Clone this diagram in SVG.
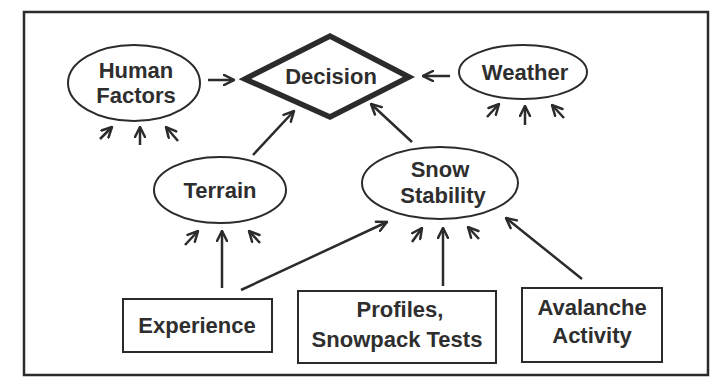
<svg xmlns="http://www.w3.org/2000/svg" width="712" height="377" viewBox="0 0 712 377">
<defs>
<marker id="ah" viewBox="0 0 10 10" refX="9" refY="5" markerWidth="5" markerHeight="5" markerUnits="strokeWidth" orient="auto">
<path d="M1,1 L9,5 L1,9" fill="none" stroke="#2b2b2b" stroke-width="2" stroke-linecap="round" stroke-linejoin="miter"/>
</marker>
</defs>
<style>
.t{font-family:"Liberation Sans",Arial,sans-serif;font-weight:bold;font-size:22px;fill:#2e2e2e;text-anchor:middle}
.n{fill:#fff;stroke:#2b2b2b;stroke-width:2}
.c{stroke:#2b2b2b;stroke-width:2.5;fill:none;marker-end:url(#ah)}
</style>
<rect x="0" y="0" width="712" height="377" fill="#fff"/>
<rect x="24" y="12" width="684" height="363" fill="none" stroke="#2b2b2b" stroke-width="2.5"/>
<g id="connectors">
<path class="c" d="M208,80 L234,80"/>
<path class="c" d="M450,76 L423,76"/>
<path class="c" d="M253,155 L294,111"/>
<path class="c" d="M412,142 L371,104"/>
<path class="c" d="M100,139 L112,127"/>
<path class="c" d="M140,145 L140,127"/>
<path class="c" d="M178,141 L166,127"/>
<path class="c" d="M487,117 L499,104"/>
<path class="c" d="M525,125 L525,106"/>
<path class="c" d="M564,118 L552,105"/>
<path class="c" d="M185,245 L198,231"/>
<path class="c" d="M222,288 L222,231"/>
<path class="c" d="M260,243 L249,231"/>
<path class="c" d="M241,290 L387,222"/>
<path class="c" d="M412,242 L422,228"/>
<path class="c" d="M443,286 L443,228"/>
<path class="c" d="M479,239 L468,227"/>
<path class="c" d="M582,279 L506,218"/>
</g>
<g id="human-factors">
<ellipse class="n" cx="134" cy="83" rx="66" ry="38"/>
<text class="t" x="136" y="78">Human</text>
<text class="t" x="136" y="103">Factors</text>
</g>
<g id="decision">
<path d="M245,79 L330,36 L409,77 L330,117 Z" fill="#fff" stroke="#2b2b2b" stroke-width="5.5" stroke-linejoin="miter"/>
<text class="t" x="331" y="84">Decision</text>
</g>
<g id="weather">
<ellipse class="n" cx="523" cy="72" rx="64" ry="27"/>
<text class="t" x="525" y="80">Weather</text>
</g>
<g id="terrain">
<ellipse class="n" cx="220" cy="190" rx="66" ry="33"/>
<text class="t" x="220" y="198">Terrain</text>
</g>
<g id="snow-stability">
<ellipse class="n" cx="440" cy="183" rx="78" ry="36"/>
<text class="t" x="440" y="177">Snow</text>
<text class="t" x="443" y="203">Stability</text>
</g>
<g id="experience">
<rect class="n" x="123" y="299" width="149" height="53" stroke-width="2.5"/>
<text class="t" x="197" y="333">Experience</text>
</g>
<g id="profiles">
<rect class="n" x="298" y="291" width="198" height="72" stroke-width="2.5"/>
<text class="t" x="400" y="317">Profiles,</text>
<text class="t" x="397" y="347">Snowpack Tests</text>
</g>
<g id="avalanche-activity">
<rect class="n" x="522" y="288" width="140" height="74" stroke-width="2.5"/>
<text class="t" x="592" y="315">Avalanche</text>
<text class="t" x="592" y="343">Activity</text>
</g>
</svg>
